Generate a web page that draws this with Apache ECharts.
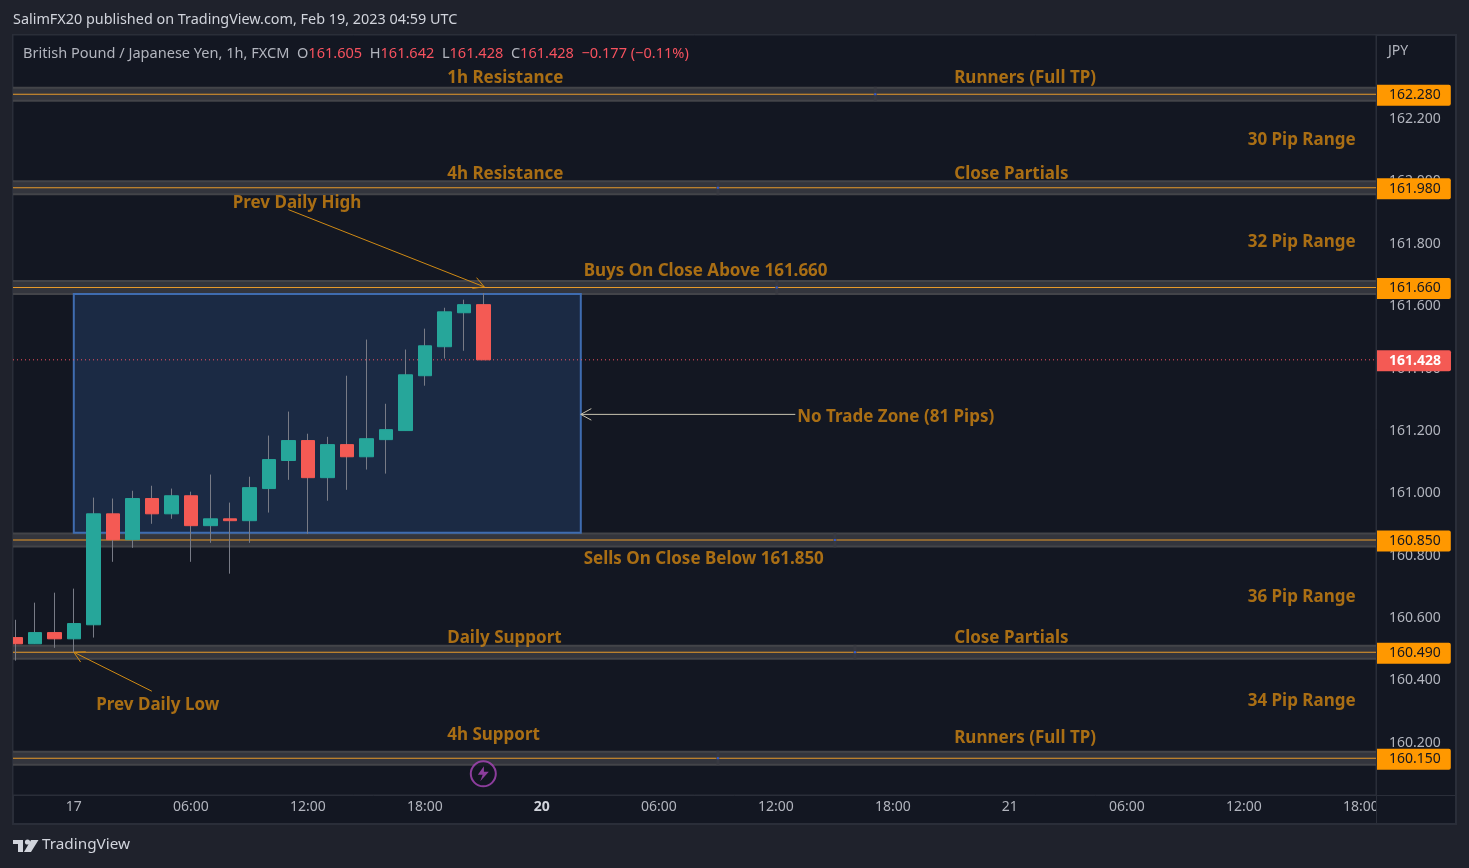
<!DOCTYPE html>
<html><head><meta charset="utf-8">
<style>html,body{margin:0;padding:0;background:#1f222c;overflow:hidden}#c{width:1469px;height:868px}</style>
<script src="https://cdn.jsdelivr.net/npm/echarts@6/dist/echarts.min.js"></script>
</head><body><div id="c"></div>
<script>
// bar index, open, close, low, high
const candles = [
[0,160.537,160.517,160.463,160.594],[1,160.517,160.553,160.517,160.649],[2,160.553,160.533,160.504,160.681],
[3,160.533,160.582,160.488,160.694],[4,160.578,160.934,160.537,160.986],[5,160.934,160.851,160.780,160.983],
[6,160.851,160.983,160.825,161.008],[7,160.983,160.934,160.902,161.024],[8,160.934,160.992,160.918,161.015],
[9,160.992,160.896,160.780,161.005],[10,160.896,160.918,160.841,161.060],[11,160.918,160.912,160.742,160.970],
[12,160.912,161.018,160.841,161.053],[13,161.015,161.108,160.938,161.185],[14,161.105,161.169,161.043,161.262],
[15,161.169,161.050,160.870,161.191],[16,161.050,161.156,160.976,161.181],[17,161.156,161.117,161.011,161.377],
[18,161.117,161.175,161.076,161.493],[19,161.172,161.204,161.063,161.287],[20,161.201,161.380,161.201,161.461],
[21,161.377,161.473,161.345,161.528],[22,161.470,161.582,161.432,161.595],[23,161.579,161.605,161.457,161.621],
[24,161.605,161.428,161.428,161.642]];
const levels = [162.280,161.980,161.660,160.850,160.490,160.150];
const levelHandles = [[44.1,162.280],[36.03,161.980],[39.05,161.660],[42.03,160.850],[43.06,160.490],[36.03,160.150]];
const lastPrice = 161.428;
const yTicks = [162.2,162.0,161.8,161.6,161.4,161.2,161.0,160.8,160.6,160.4,160.2];
const xTicks = [3,9,15,21,27,33,39,45,51,57,63,69];
const xTickLabels = ['17','06:00','12:00','18:00','20','06:00','12:00','18:00','21','06:00','12:00','18:00'];
const boldTicks = ['20'];
const xRange = [-0.118,69.78];
const yRange = [160.032,162.470];
const zone = [3,29,161.639,160.873];
// text, bar, price
const notes = [
['1h Resistance',22.15,162.333],['Runners (Full TP)',48.15,162.333],['30 Pip Range',63.2,162.133],
['4h Resistance',22.15,162.023],['Close Partials',48.15,162.023],['Prev Daily High',11.15,161.93],
['32 Pip Range',63.2,161.807],['Buys On Close Above 161.660',29.15,161.713],['No Trade Zone (81 Pips)',40.1,161.243],
['Sells On Close Below 161.850',29.15,160.787],['36 Pip Range',63.2,160.667],['Daily Support',22.15,160.536],
['Close Partials',48.15,160.536],['Prev Daily Low',4.15,160.321],['34 Pip Range',63.2,160.333],
['4h Support',22.15,160.223],['Runners (Full TP)',48.15,160.213]];
// bar1, price1, bar2, price2 (arrow head at 2)
const arrows = [[14,161.91,24.05,161.662],[7,160.365,3,160.49]];
const zoneArrow = [[40,161.253,29,161.253]];
const eventMark = [[24,160.10]];

const FONT='"Noto Sans", sans-serif';
const orange='#ff9800', noteColor='#cf8412', pageBg='#1f222c', panelBg='#131722', frame='#2a2e39';
const bolt='M6 0 L1 8 L5 8 L3 14 L10 5 L6 5 Z';

function arrowSeries(data,color,z){return {type:'custom',data:data,z:z,clip:false,silent:true,
  encode:{x:[0,2],y:[1,3]},
  renderItem:(p,api)=>{
    const a=api.coord([api.value(0),api.value(1)]),b=api.coord([api.value(2),api.value(3)]);
    const t=Math.atan2(a[1]-b[1],a[0]-b[0]),L=12,w=0.5;
    const h1=[b[0]+L*Math.cos(t+w),b[1]+L*Math.sin(t+w)],h2=[b[0]+L*Math.cos(t-w),b[1]+L*Math.sin(t-w)];
    const st={stroke:color,lineWidth:1,fill:null};
    return {type:'group',children:[
      {type:'line',shape:{x1:a[0],y1:a[1],x2:b[0],y2:b[1]},style:st},
      {type:'polyline',shape:{points:[h1,b,h2]},style:st}]};
  }};}

const levelSeries=[];
levels.forEach(v=>{
  const d=[[xRange[0],v],[xRange[1],v]];
  levelSeries.push({type:'line',data:d,symbol:'none',silent:true,z:3,lineStyle:{color:'#434449',width:15}});
  levelSeries.push({type:'line',data:d,symbol:'none',silent:true,z:3,lineStyle:{color:'#33353d',width:11}});
  levelSeries.push({type:'line',data:d,symbol:'none',silent:true,z:4,lineStyle:{color:'#e89a2a',width:1.1},
    endLabel:{show:true,formatter:()=>v.toFixed(3),color:'#131722',backgroundColor:orange,fontFamily:FONT,fontSize:14,
      borderRadius:[0,2,2,0],padding:[3,10,3,13],distance:0,lineHeight:15,offset:[0,1]}});
});

const chart=echarts.init(document.getElementById('c'),null,{renderer:'canvas'});
chart.setOption({
  animation:false,backgroundColor:pageBg,
  title:[
   {left:13,top:13,padding:0,text:'SalimFX20 published on TradingView.com, Feb 19, 2023 04:59 UTC',textStyle:{color:'#d1d4dc',fontFamily:FONT,fontSize:14.4,fontWeight:'normal'}},
   {left:23,top:46,padding:0,text:'British Pound / Japanese Yen, 1h, FXCM  O{r|161.605}  H{r|161.642}  L{r|161.428}  C{r|161.428}  {r|−0.177 (−0.11%)}',
    textStyle:{color:'#b2b5be',fontFamily:FONT,fontSize:14.55,fontWeight:'normal',rich:{r:{color:'#f7525f',fontFamily:FONT,fontSize:14.55}}}}
  ],
  grid:{left:13,right:93,top:35,bottom:73,show:true,backgroundColor:panelBg,borderColor:frame,borderWidth:1},
  xAxis:{type:'value',min:xRange[0],max:xRange[1],splitLine:{show:false},axisLine:{show:false},axisTick:{show:false},
    axisLabel:{customValues:xTicks,margin:5,color:'#b2b5be',fontFamily:FONT,fontSize:14,showMinLabel:true,showMaxLabel:true,
      formatter:v=>{const s=xTickLabels[xTicks.indexOf(v)];return boldTicks.includes(s)?'{b|'+s+'}':s;},
      rich:{b:{fontWeight:'bold',color:'#d1d4dc',fontFamily:FONT,fontSize:14}}}},
  yAxis:{type:'value',position:'right',min:yRange[0],max:yRange[1],splitLine:{show:false},axisLine:{show:false},axisTick:{show:false},
    axisLabel:{customValues:yTicks,margin:13,color:'#b2b5be',fontFamily:FONT,fontSize:14,padding:[2,0,0,0],formatter:v=>v.toFixed(3)}},
  graphic:[
    {type:'rect',z:-1,shape:{x:13,y:35,width:1443,height:789},style:{fill:panelBg,stroke:frame,lineWidth:2}},
    {type:'rect',z:100,shape:{x:0,y:36,width:12,height:780},style:{fill:pageBg}},
    {type:'rect',z:100,shape:{x:1377,y:797,width:14,height:26},style:{fill:panelBg}},
    {type:'line',z:100,shape:{x1:12.5,y1:35,x2:12.5,y2:824},style:{stroke:frame,lineWidth:1}},
    {type:'line',z:100,shape:{x1:13,y1:795.5,x2:1456,y2:795.5},style:{stroke:frame,lineWidth:1}},
    {type:'line',z:100,shape:{x1:1376.5,y1:35,x2:1376.5,y2:824},style:{stroke:frame,lineWidth:1}},
    {type:'text',z:100,style:{x:1388,y:44,text:'JPY',fill:'#b2b5be',font:'14px "Noto Sans"'}},
    {type:'polygon',z:100,shape:{points:[[13,840],[23,840],[23,852],[18,852],[18,844],[13,844]]},style:{fill:'#d1d4dc'}},
    {type:'circle',z:100,shape:{cx:27.5,cy:842,r:2.6},style:{fill:'#d1d4dc'}},
    {type:'polygon',z:100,shape:{points:[[31,840],[38.5,840],[31,852],[24,852]]},style:{fill:'#d1d4dc'}},
    {type:'text',z:100,style:{x:42,y:837.5,text:'TradingView',fill:'#d1d4dc',font:'15.3px "Noto Sans"'}}
  ],
  series:[
    ...levelSeries,
    {type:'custom',data:[zone],z:5,silent:true,encode:{x:[0,1],y:[2,3]},
     renderItem:(p,api)=>{const a=api.coord([api.value(0),api.value(2)]),b=api.coord([api.value(1),api.value(3)]);
       return {type:'rect',shape:{x:a[0],y:a[1],width:b[0]-a[0],height:b[1]-a[1]},style:{fill:'#1b2a44',stroke:'#3f6cb0',lineWidth:2}};}},
    {type:'scatter',data:levelHandles,z:4,silent:true,symbol:'rect',symbolSize:[3,15],itemStyle:{color:'#3a3b42'}},
    {type:'scatter',data:levelHandles,z:5,silent:true,symbol:'rect',symbolSize:[2,2],itemStyle:{color:'#2962ff'}},
    {type:'line',data:[[xRange[0],lastPrice],[xRange[1],lastPrice]],symbol:'none',silent:true,z:6,
     lineStyle:{color:'#f7525f',width:1,type:[1,3]},
     endLabel:{show:true,formatter:()=>lastPrice.toFixed(3),color:'#fff',backgroundColor:'#f45a54',fontFamily:FONT,fontSize:14,fontWeight:'bold',
       borderRadius:[0,2,2,0],padding:[3,10,3,13],distance:0,lineHeight:15,offset:[0,1]}},
    // wicks
    {type:'candlestick',data:candles,z:7,barWidth:1,silent:true,encode:{x:0,y:[1,2,3,4]},
     itemStyle:{color:'#787b86',color0:'#787b86',borderColor:'#787b86',borderColor0:'#787b86',borderWidth:1}},
    // bodies
    {type:'candlestick',data:candles.map(c=>[c[0],c[1],c[2],Math.min(c[1],c[2]),Math.max(c[1],c[2])]),z:7,barWidth:14,silent:true,encode:{x:0,y:[1,2,3,4]},
     itemStyle:{color:'#26a69a',color0:'#f45a54',borderColor:'#26a69a',borderColor0:'#f45a54',borderWidth:1}},
    arrowSeries(arrows,'#d08a14',8),
    arrowSeries(zoneArrow,'#c9c4b0',8),
    {type:'scatter',data:eventMark,z:8,silent:true,symbol:'circle',symbolSize:25,itemStyle:{color:panelBg,borderColor:'#ab47bc',borderWidth:2}},
    {type:'scatter',data:eventMark,z:9,silent:true,symbol:'path://'+bolt,symbolSize:[11,15],itemStyle:{color:'#ab47bc'}},
    {type:'scatter',data:notes.map(n=>({value:[n[1],n[2]],name:n[0]})),z:10,silent:true,symbolSize:0,clip:false,
     label:{show:true,position:'inside',align:'left',verticalAlign:'middle',formatter:p=>p.name,color:noteColor,fontFamily:FONT,fontSize:17,fontWeight:'bold'}}
  ]
});
</script></body></html>
